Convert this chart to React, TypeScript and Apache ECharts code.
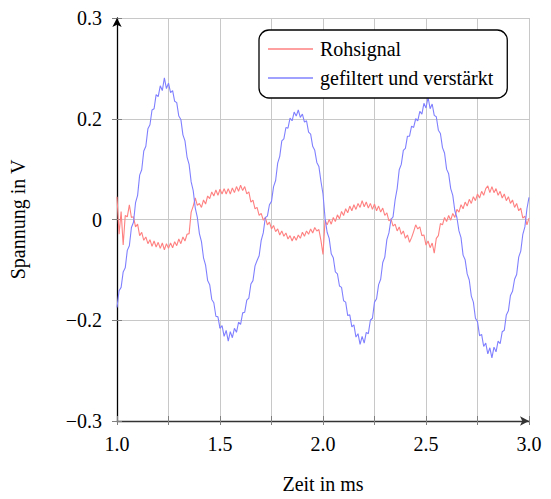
import React, { useEffect, useRef } from "react";
import * as echarts from "echarts";

// Sampling of the recorded signals (ms)
const TIME_START = 1.0;
const TIME_STEP = 0.01;

// Rohsignal (V), one value per sample from 1.00 ms to 3.00 ms
const RAW_SIGNAL = [
  0.034, -0.022, 0.012, -0.038, 0.006, 0.004, 0.022, 0.003, 0.004, -0.011,
  -0.007, -0.024, -0.019, -0.031, -0.026, -0.036, -0.03, -0.04, -0.032, -0.041,
  -0.034, -0.043, -0.035, -0.045, -0.036, -0.043, -0.035, -0.042, -0.033, -0.039,
  -0.029, -0.036, -0.026, -0.032, -0.022, -0.021, 0.011, 0.02, 0.032, 0.021,
  0.024, 0.018, 0.029, 0.023, 0.035, 0.031, 0.041, 0.035, 0.044, 0.036,
  0.045, 0.038, 0.046, 0.038, 0.046, 0.038, 0.047, 0.04, 0.049, 0.042,
  0.051, 0.043, 0.049, 0.038, 0.041, 0.026, 0.029, 0.016, 0.018, 0.006,
  0.009, -0.001, 0.003, -0.008, -0.004, -0.014, -0.009, -0.018, -0.014, -0.023,
  -0.017, -0.025, -0.02, -0.029, -0.024, -0.032, -0.025, -0.031, -0.023, -0.028,
  -0.019, -0.025, -0.017, -0.022, -0.014, -0.02, -0.012, -0.017, -0.015, -0.031,
  -0.052, -0.001, -0.008, 0.0, -0.007, 0.003, -0.003, 0.007, 0.001, 0.012,
  0.006, 0.016, 0.01, 0.02, 0.013, 0.022, 0.015, 0.024, 0.018, 0.028,
  0.019, 0.026, 0.017, 0.024, 0.015, 0.023, 0.013, 0.02, 0.011, 0.017,
  0.006, 0.01, -0.002, 0.001, -0.01, -0.007, -0.017, -0.011, -0.022, -0.017,
  -0.028, -0.023, -0.034, -0.027, -0.018, -0.008, -0.014, -0.011, -0.024, -0.023,
  -0.038, -0.032, -0.042, -0.035, -0.05, -0.028, -0.024, -0.006, -0.008, 0.003,
  -0.003, 0.006, -0.001, 0.009, 0.003, 0.015, 0.011, 0.022, 0.016, 0.026,
  0.02, 0.03, 0.024, 0.034, 0.028, 0.038, 0.032, 0.042, 0.036, 0.046,
  0.05, 0.04, 0.049, 0.04, 0.046, 0.036, 0.042, 0.032, 0.038, 0.028,
  0.034, 0.024, 0.029, 0.018, 0.024, 0.013, 0.017, 0.002, 0.005, -0.008,
  0.002,
];

// gefiltert und verstärkt (V), same sampling
const FILTERED_SIGNAL = [
  -0.131, -0.106, -0.101, -0.078, -0.072, -0.046, -0.039, -0.012, -0.004, 0.025,
  0.036, 0.066, 0.074, 0.102, 0.109, 0.135, 0.141, 0.163, 0.165, 0.186,
  0.183, 0.199, 0.192, 0.211, 0.195, 0.203, 0.189, 0.192, 0.176, 0.174,
  0.154, 0.149, 0.126, 0.117, 0.093, 0.082, 0.056, 0.043, 0.017, 0.003,
  -0.021, -0.033, -0.057, -0.068, -0.091, -0.097, -0.119, -0.124, -0.144, -0.145,
  -0.162, -0.158, -0.174, -0.165, -0.181, -0.167, -0.176, -0.162, -0.168, -0.153,
  -0.156, -0.139, -0.138, -0.12, -0.117, -0.096, -0.091, -0.069, -0.061, -0.054,
  -0.031, -0.02, 0.003, 0.005, 0.022, 0.027, 0.049, 0.058, 0.084, 0.094,
  0.117, 0.12, 0.137, 0.136, 0.151, 0.147, 0.16, 0.154, 0.163, 0.152,
  0.157, 0.145, 0.147, 0.13, 0.127, 0.109, 0.103, 0.085, 0.079, 0.057,
  0.038, 0.002, -0.019, -0.028, -0.051, -0.057, -0.078, -0.081, -0.099, -0.101,
  -0.121, -0.123, -0.143, -0.142, -0.16, -0.157, -0.175, -0.17, -0.186, -0.174,
  -0.184, -0.168, -0.17, -0.15, -0.147, -0.123, -0.118, -0.097, -0.089, -0.064,
  -0.056, -0.03, -0.02, 0.0, 0.004, 0.029, 0.046, 0.074, 0.082, 0.103,
  0.106, 0.124, 0.124, 0.139, 0.137, 0.15, 0.147, 0.161, 0.157, 0.173,
  0.166, 0.182, 0.165, 0.172, 0.155, 0.153, 0.133, 0.128, 0.107, 0.099,
  0.075, 0.068, 0.046, 0.036, 0.013, 0.003, -0.017, -0.027, -0.053, -0.06,
  -0.081, -0.09, -0.114, -0.123, -0.147, -0.152, -0.173, -0.171, -0.189, -0.184,
  -0.2, -0.191, -0.206, -0.19, -0.197, -0.181, -0.185, -0.167, -0.165, -0.142,
  -0.136, -0.113, -0.107, -0.089, -0.082, -0.056, -0.047, -0.022, -0.011, 0.016,
  0.033,
];

const SERIES_NAMES = ["Rohsignal", "gefiltert und verstärkt"];
const SERIES_COLORS = ["#ff8080", "#8080ff"];

const X_MIN = 1;
const X_MAX = 3;
const X_STEP = 0.25;
const X_TICK_LABELS = ["1.0", "", "1.5", "", "2.0", "", "2.5", "", "3.0"];

const Y_MIN = -0.3;
const Y_MAX = 0.3;
const Y_STEP = 0.15;
const Y_TICK_LABELS = ["\u22120.3", "\u22120.2", "0", "0.2", "0.3"];

const X_TITLE = "Zeit in ms";
const Y_TITLE = "Spannung in V";

const FONT = "Liberation Serif";

function toPairs(values: number[]): [number, number][] {
  return values.map((v, i) => [Number((TIME_START + i * TIME_STEP).toFixed(4)), v]);
}

export default function App() {
  const ref = useRef<HTMLDivElement>(null);

  useEffect(() => {
    if (!ref.current) return;
    const chart = echarts.init(ref.current, undefined, { renderer: "svg" });

    const xLabel = (v: number) => X_TICK_LABELS[Math.round((v - X_MIN) / X_STEP)] ?? "";
    const yLabel = (v: number) => Y_TICK_LABELS[Math.round((v - Y_MIN) / Y_STEP)] ?? "";

    const tickStyle = { color: "#808080", width: 1 };

    const option: any = {
      animation: false,
      backgroundColor: "#ffffff",
      textStyle: { fontFamily: FONT },
      grid: { left: 117, right: 22, top: 18, bottom: 69, containLabel: false },
      legend: {
        orient: "vertical",
        left: 259,
        top: 30,
        data: SERIES_NAMES,
        icon: "rect",
        backgroundColor: "#ffffff",
        borderColor: "#000000",
        borderWidth: 1.3,
        borderRadius: 10,
        padding: [8, 14, 9, 9],
        itemWidth: 45,
        itemHeight: 1.5,
        itemGap: 7,
        textStyle: {
          fontFamily: FONT,
          fontSize: 20,
          color: "#000000",
          lineHeight: 22,
          padding: [0, 0, 0, 2],
        },
      },
      xAxis: [
        {
          type: "value",
          min: X_MIN,
          max: X_MAX,
          interval: X_STEP,
          position: "bottom",
          name: X_TITLE,
          nameLocation: "middle",
          nameGap: 53,
          nameTextStyle: { fontFamily: FONT, fontSize: 20, color: "#000000" },
          axisLine: {
            show: true,
            onZero: false,
            lineStyle: { color: "#333333", width: 1.4 },
            symbol: ["none", "arrow"],
            symbolSize: [7, 9],
          },
          axisTick: { show: true, inside: true, length: 5, lineStyle: tickStyle },
          axisLabel: {
            formatter: xLabel,
            fontFamily: FONT,
            fontSize: 20,
            color: "#000000",
            margin: 13,
            showMinLabel: true,
            showMaxLabel: true,
          },
          splitLine: { show: true, lineStyle: { color: "#c8c8c8", width: 1 } },
        },
        {
          type: "value",
          min: X_MIN,
          max: X_MAX,
          interval: X_STEP,
          position: "bottom",
          axisLine: { show: false, onZero: false },
          axisTick: { show: true, inside: false, length: 4, lineStyle: tickStyle },
          axisLabel: { show: false },
          splitLine: { show: false },
        },
      ],
      yAxis: [
        {
          type: "value",
          min: Y_MIN,
          max: Y_MAX,
          interval: Y_STEP,
          position: "left",
          name: Y_TITLE,
          nameLocation: "middle",
          nameGap: 89,
          nameRotate: 90,
          nameTextStyle: { fontFamily: FONT, fontSize: 20, color: "#000000" },
          axisLine: {
            show: true,
            onZero: false,
            lineStyle: { color: "#000000", width: 1.3 },
            symbol: ["none", "arrow"],
            symbolSize: [7, 9],
          },
          axisTick: { show: true, inside: true, length: 5, lineStyle: tickStyle },
          axisLabel: {
            formatter: yLabel,
            fontFamily: FONT,
            fontSize: 20,
            color: "#000000",
            margin: 15,
            showMinLabel: true,
            showMaxLabel: true,
          },
          splitLine: { show: true, lineStyle: { color: "#c8c8c8", width: 1 } },
        },
        {
          type: "value",
          min: Y_MIN,
          max: Y_MAX,
          interval: Y_STEP,
          position: "left",
          axisLine: { show: false, onZero: false },
          axisTick: { show: true, inside: false, length: 5, lineStyle: tickStyle },
          axisLabel: { show: false },
          splitLine: { show: false },
        },
      ],
      series: [
        {
          name: SERIES_NAMES[0],
          type: "line",
          xAxisIndex: 0,
          yAxisIndex: 0,
          data: toPairs(RAW_SIGNAL),
          symbol: "none",
          showSymbol: false,
          lineStyle: { color: SERIES_COLORS[0], width: 1.1 },
          itemStyle: { color: SERIES_COLORS[0] },
        },
        {
          name: SERIES_NAMES[1],
          type: "line",
          xAxisIndex: 0,
          yAxisIndex: 0,
          data: toPairs(FILTERED_SIGNAL),
          symbol: "none",
          showSymbol: false,
          lineStyle: { color: SERIES_COLORS[1], width: 1.1 },
          itemStyle: { color: SERIES_COLORS[1] },
        },
      ],
    };

    chart.setOption(option);
    return () => chart.dispose();
  }, []);

  return (
    <div
      ref={ref}
      style={{ position: "fixed", left: 0, top: 0, width: 551, height: 499, background: "#fff" }}
    />
  );
}
